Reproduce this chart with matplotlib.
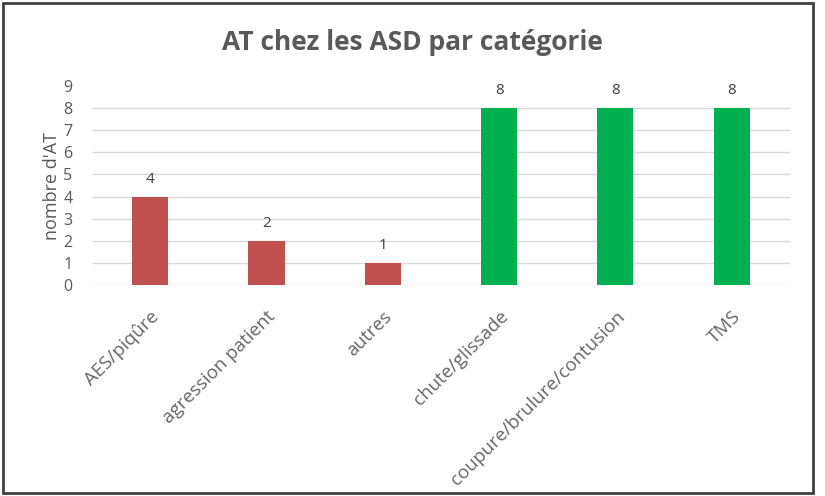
import matplotlib.pyplot as plt
from matplotlib.patches import Rectangle

categories = ["AES/piqûre", "agression patient", "autres", "chute/glissade",
              "coupure/brulure/contusion", "TMS"]
values = [4, 2, 1, 8, 8, 8]
colors = ["#C0504D", "#C0504D", "#C0504D", "#00B050", "#00B050", "#00B050"]
yticks = list(range(0, 10))

plt.rcParams['font.family'] = ['Open Sans', 'DejaVu Sans']

fig = plt.figure(figsize=(8.25, 4.96), dpi=100)
ax = fig.add_axes([0.1115, 0.4254, 0.846, 0.4012])

x = range(len(categories))
bars = ax.bar(x, values, width=0.31, color=colors, zorder=3)

# gridlines (no line at the top tick, like the original)
ax.hlines(yticks[:-1], -0.5, len(categories) - 0.5, color="#D9D9D9", lw=1, zorder=1)

for xi, v in zip(x, values):
    ax.text(xi, v + 0.45, str(v), ha="center", va="bottom", fontsize=11, color="#404040")

ax.set_xlim(-0.5, len(categories) - 0.5)
ax.set_ylim(0, 9)
ax.set_yticks(yticks)
ax.set_xticks(list(x))
ax.set_xticklabels(categories, rotation=45, ha="right", rotation_mode="anchor",
                   fontsize=13.5, color="#666666")
ax.tick_params(axis="y", length=0, labelsize=11.5, labelcolor="#595959", pad=14)
ax.tick_params(axis="x", length=0, pad=16)
for s in ax.spines.values():
    s.set_visible(False)

ax.set_ylabel("nombre d'AT", fontsize=13, color="#595959", labelpad=2)
fig.text(0.5, 0.915, "AT chez les ASD par catégorie", ha="center", va="center",
         fontsize=19, fontweight="bold", color="#595959")

fig.patches.append(Rectangle((0.004, 0.006), 0.982, 0.988, transform=fig.transFigure,
                             fill=False, edgecolor="#404040", lw=2))

fig.savefig("out.png", dpi=100)
